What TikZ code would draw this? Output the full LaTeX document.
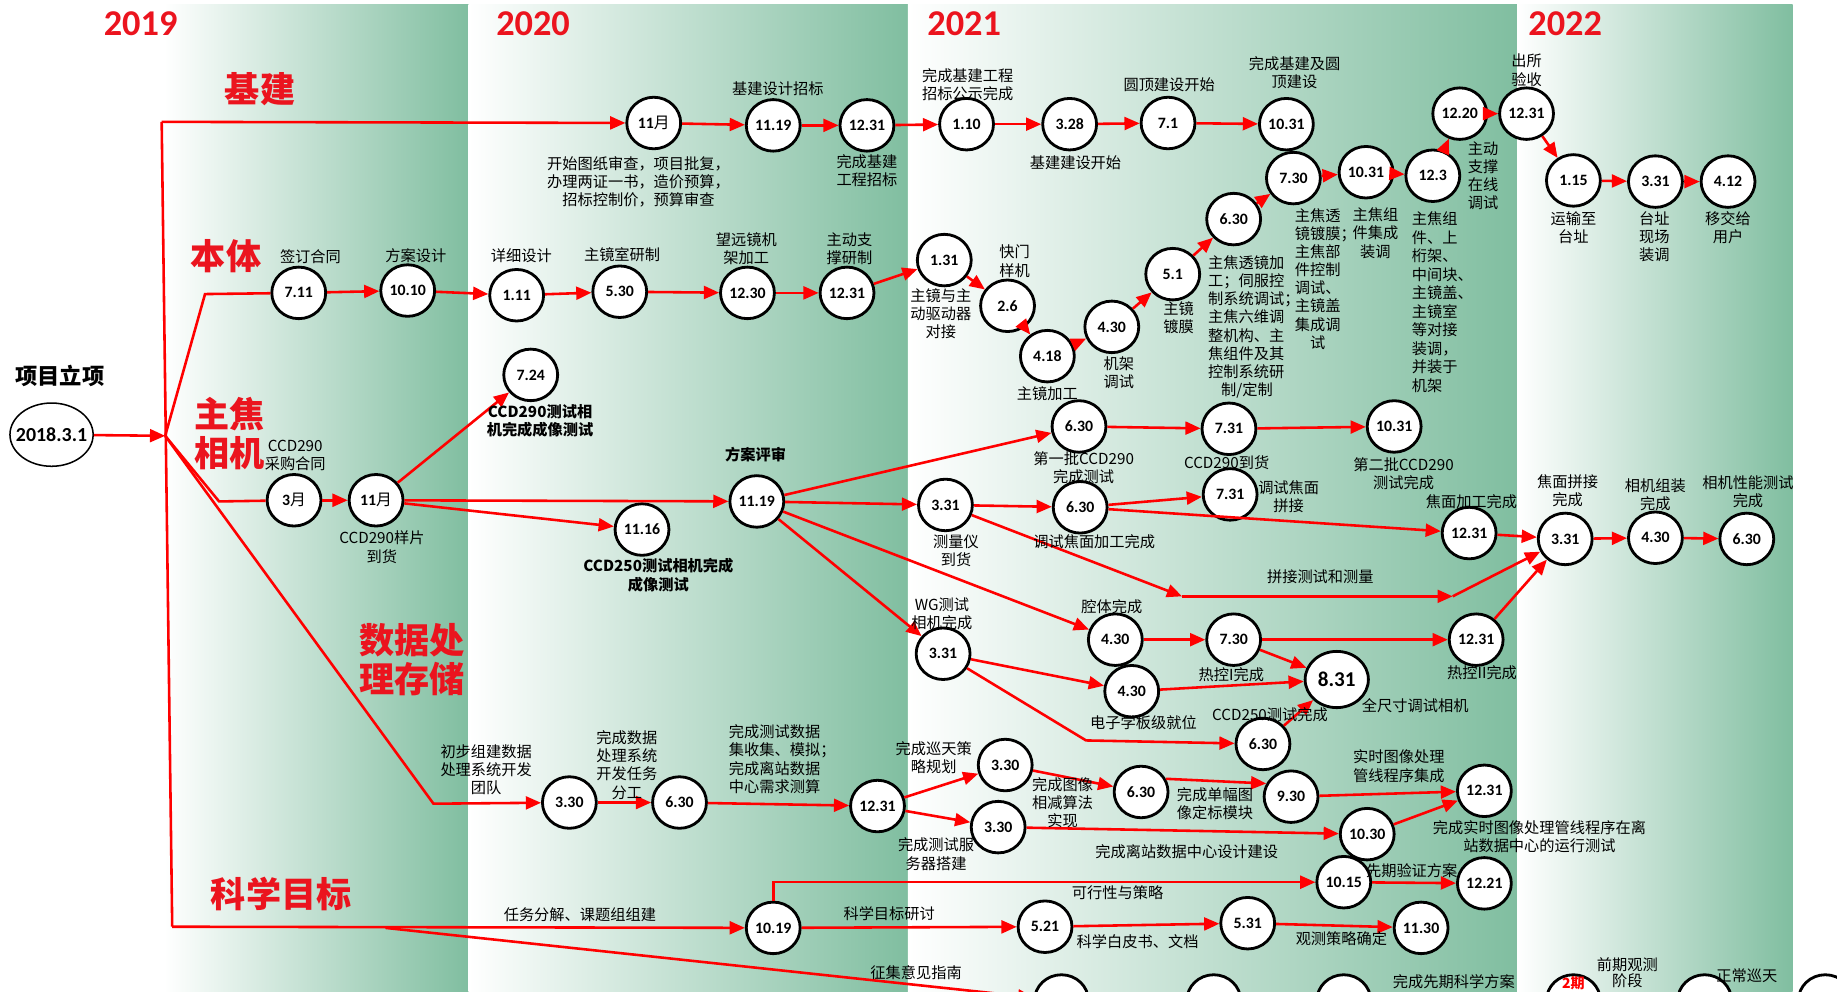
\documentclass[tikz,border=0pt]{standalone}
\usepackage{fontspec}
\newfontfamily\cjk{Noto Sans CJK SC}
\newfontfamily\num{Carlito}
\usetikzlibrary{shapes.geometric,arrows.meta}
\definecolor{bandg}{RGB}{128,190,160}
\definecolor{lred}{RGB}{255,0,0}
\definecolor{cred}{RGB}{235,20,30}
\begin{document}
\begin{tikzpicture}[x=1pt,y=-1pt,
 ms/.style={draw=black,line width=2.4pt,ellipse,minimum width=46pt,minimum height=44pt,inner sep=0pt,fill=white,font=\num\bfseries\fontsize{13.5}{14}\selectfont},
 ar/.style={draw=lred,line width=2.2pt,-{Triangle[length=13pt,width=11pt]}},
 ln/.style={draw=lred,line width=2.2pt},
 lb/.style={font=\cjk\fontsize{13}{15.5}\selectfont,align=center,inner sep=0pt,text=black},
 lbl/.style={lb,align=left,anchor=west},
 blb/.style={font=\cjk\bfseries\fontsize{13}{15.5}\selectfont,align=center,inner sep=0pt},
 cat/.style={text=cred,font=\cjk\bfseries\fontsize{30}{34}\selectfont,align=left,inner sep=0pt},
 yr/.style={text=cred,font=\num\bfseries\fontsize{31}{31}\selectfont,inner sep=0pt},
 band/.style={left color=white,middle color=bandg!35,right color=bandg}
]
\useasboundingbox (0,0) rectangle (1568,846);
\clip (0,0) rectangle (1568,846);
\fill[white] (0,0) rectangle (1568,846);
\shade[band] (140,4) rectangle (400,846);
\shade[band] (400,4) rectangle (775,846);
\shade[band] (775,4) rectangle (1295,846);
\shade[band] (1295,4) rectangle (1530,846);

% years
\node[yr] (y19) at (120,20) {2019};
\node[yr] (y20) at (455,20) {2020};
\node[yr] (y21) at (823,20) {2021};
\node[yr] (y22) at (1336,20) {2022};

% categories
\node[cat] (k1) at (222,76) {基建};
\node[cat] (k2) at (193,219) {本体};
\node[cat] (k3) at (196,370) {主焦\\相机};
\node[cat] (k4) at (352,563) {数据处\\理存储};
\node[cat] (k5) at (240,763) {科学目标};

% start
\node[font=\cjk\bfseries\fontsize{19}{19}\selectfont,inner sep=0pt] (xm) at (51,321) {项目立项};
\node[draw=black,line width=1.3pt,ellipse,minimum width=71pt,minimum height=54pt,inner sep=0pt] (st) at (44,371) {};
\node[font=\num\bfseries\fontsize{17}{17}\selectfont,inner sep=0pt] (stt) at (st) {2018.3.1};

% coordinates
\coordinate (T) at (138,104);
\coordinate (B) at (147,791);
\coordinate (J) at (141,372);
\coordinate (Bb) at (175,251);
\coordinate (Bz) at (187,428);
\coordinate (Bd) at (370,686);
\coordinate (Bs) at (329,792);
\coordinate (P1) at (1009,509);
\coordinate (P2) at (1240,509);
\coordinate (K) at (927,632);

% jijian
\node[ms] (j1) at (558,105) {11{\cjk\mdseries 月}};
\node[ms] (j2) at (660,107) {11.19};
\node[ms] (j3) at (740,107) {12.31};
\node[ms] (j4) at (825,106) {1.10};
\node[ms] (j5) at (913,106) {3.28};
\node[ms] (j6) at (997,105) {7.1};
\node[ms] (j7) at (1098,106) {10.31};

% benti
\node[ms] (b1) at (255,250) {7.11};
\node[ms] (b2) at (348,248) {10.10};
\node[ms] (b3) at (441,252) {1.11};
\node[ms] (b4) at (529,249) {5.30};
\node[ms] (b5) at (638,250) {12.30};
\node[ms] (b6) at (723,250) {12.31};
\node[ms] (b7) at (806,222) {1.31};
\node[ms] (b8) at (860,261) {2.6};
\node[ms] (b9) at (894,304) {4.18};
\node[ms] (b10) at (949,279) {4.30};
\node[ms] (b11) at (1001,234) {5.1};
\node[ms] (b12) at (1053,187) {6.30};
\node[ms] (b13) at (1104,152) {7.30};
\node[ms] (b14) at (1166,147) {10.31};
\node[ms] (b15) at (1223,150) {12.3};
\node[ms] (b16) at (1246,97) {12.20};
\node[ms] (b17) at (1303,97) {12.31};
\node[ms] (b18) at (1343,154) {1.15};
\node[ms] (b19) at (1413,155) {3.31};
\node[ms] (b20) at (1475,155) {4.12};

% zhujiao
\node[ms] (c1) at (251,427) {3{\cjk\mdseries 月}};
\node[ms] (c2) at (321,427) {11{\cjk\mdseries 月}};
\node[ms] (c3) at (453,320) {7.24};
\node[ms] (c4) at (548,452) {11.16};
\node[ms] (c5) at (646,428) {11.19};
\node[ms] (c6) at (921,364) {6.30};
\node[ms] (c7) at (1049,366) {7.31};
\node[ms] (c8) at (1190,364) {10.31};
\node[ms] (c9) at (807,431) {3.31};
\node[ms] (c10) at (922,433) {6.30};
\node[ms] (c11) at (1050,422) {7.31};
\node[ms] (c12) at (1254,455) {12.31};
\node[ms] (c13) at (1336,460) {3.31};
\node[ms] (c14) at (1413,459) {4.30};
\node[ms] (c15) at (1491,460) {6.30};
\node[ms] (c16) at (805,558) {3.31};
\node[ms] (c17) at (952,546) {4.30};
\node[ms] (c18) at (1053,546) {7.30};
\node[ms] (c19) at (1260,546) {12.31};
\node[ms] (c20) at (966,590) {4.30};
\node[ms,minimum width=54pt,minimum height=48pt,font=\num\bfseries\fontsize{18}{18}\selectfont] (c21) at (1141,580) {8.31};
\node[ms] (c22) at (1078,635) {6.30};

% data
\node[ms] (d1) at (486,685) {3.30};
\node[ms] (d2) at (580,685) {6.30};
\node[ms] (d3) at (749,688) {12.31};
\node[ms] (d4) at (858,653) {3.30};
\node[ms] (d5) at (852,706) {3.30};
\node[ms] (d6) at (974,676) {6.30};
\node[ms] (d7) at (1102,680) {9.30};
\node[ms] (d8) at (1167,712) {10.30};
\node[ms] (d9) at (1267,675) {12.31};

% science
\node[ms] (s1) at (660,792) {10.19};
\node[ms] (s2) at (892,791) {5.21};
\node[ms] (s3) at (1065,788) {5.31};
\node[ms] (s4) at (1213,792) {11.30};
\node[ms] (s5) at (1147,753) {10.15};
\node[ms] (s6) at (1267,754) {12.21};

% bottom (cut)
\node[ms] (q1) at (906,854) {};
\node[ms] (q2) at (1036,854) {};
\node[ms] (q3) at (1147,854) {};
\node[ms] (q4) at (1343,854) {};
\node[ms] (q5) at (1455,854) {};
\node[ms] (q6) at (1558,854) {};
\node[font=\cjk\bfseries\fontsize{12}{12}\selectfont,text=red,inner sep=0pt] (q4t) at (1343,839) {2期};

% connectors
\draw[ar] (st) -- (J);
\draw[ln] (B) -- (T);
\draw[ar] (T) -- (j1);
\draw[ln] (J) -- (Bb) -- (b1);
\draw[ln] (J) -- (Bz) -- (c1);
\draw[ar] (J) -- (Bd) -- (d1);
\draw[ar] (B) -- (s1);
\draw[ar] (Bs) -- (q1);

\draw[ar] (j1) -- (j2);
\draw[ar] (j2) -- (j3);
\draw[ar] (j3) -- (j4);
\draw[ar] (j4) -- (j5);
\draw[ar] (j5) -- (j6);
\draw[ar] (j6) -- (j7);

\draw[ar] (b1) -- (b2);
\draw[ar] (b2) -- (b3);
\draw[ar] (b3) -- (b4);
\draw[ar] (b4) -- (b5);
\draw[ar] (b5) -- (b6);
\draw[ar] (b6) -- (b7);
\draw[ar] (b7) -- (b8);
\draw[ar] (b8) -- (b9);
\draw[ar] (b9) -- (b10);
\draw[ar] (b10) -- (b11);
\draw[ar] (b11) -- (b12);
\draw[ar] (b12) -- (b13);
\draw[ar] (b13) -- (b14);
\draw[ar] (b14) -- (b15);
\draw[ar] (b15) -- (b16);
\draw[ar] (b16) -- (b17);
\draw[ar] (b17) -- (b18);
\draw[ar] (b18) -- (b19);
\draw[ar] (b19) -- (b20);

\draw[ar] (c1) -- (c2);
\draw[ar] (c2) -- (c3);
\draw[ar] (c2) -- (c4);
\draw[ar] (c2) -- (c5);
\draw[ar] (c5) -- (c6);
\draw[ar] (c5) -- (c9);
\draw[ar] (c5) -- (c17);
\draw[ar] (c5) -- (c16);
\draw[ar] (c6) -- (c7);
\draw[ar] (c7) -- (c8);
\draw[ar] (c9) -- (c10);
\draw[ar] (c9) -- (P1);
\draw[ar] (P1) -- (P2);
\draw[ar] (P2) -- (c13);
\draw[ar] (c10) -- (c11);
\draw[ar] (c10) -- (c12);
\draw[ar] (c12) -- (c13);
\draw[ar] (c13) -- (c14);
\draw[ar] (c14) -- (c15);
\draw[ar] (c17) -- (c18);
\draw[ar] (c18) -- (c19);
\draw[ar] (c18) -- (c21);
\draw[ar] (c19) -- (c13);
\draw[ar] (c16) -- (c20);
\draw[ar] (c20) -- (c21);
\draw[ar] (c16) -- (K) -- (c22);
\draw[ar] (c22) -- (c21);

\draw[ar] (d1) -- (d2);
\draw[ar] (d2) -- (d3);
\draw[ar] (d3) -- (d4);
\draw[ar] (d3) -- (d5);
\draw[ar] (d4) -- (d6);
\draw[ar] (d6.28) -- (d7.152);
\draw[ar] (d7) -- (d9);
\draw[ar] (d5) -- (d8);
\draw[ar] (d8) -- (d9);

\draw[ar] (s1.north) |- (s5);
\draw[ar] (s1) -- (s2);
\draw[ar] (s2) -- (s3);
\draw[ar] (s3) -- (s4);
\draw[ar] (s5) -- (s6);

% labels jijian
\node[lb] (l1) at (664,76) {基建设计招标};
\node[lb] (l2) at (545,155) {开始图纸审查，项目批复，\\办理两证一书，造价预算，\\招标控制价，预算审查};
\node[lb] (l3) at (740,146) {完成基建\\工程招标};
\node[lb] (l4) at (826,72) {完成基建工程\\招标公示完成};
\node[lb] (l5) at (918,139) {基建建设开始};
\node[lb] (l6) at (998,72) {圆顶建设开始};
\node[lb] (l7) at (1105,62) {完成基建及圆\\顶建设};

% labels benti
\node[lb] (m1) at (265,219) {签订合同};
\node[lb] (m2) at (355,218) {方案设计};
\node[lb] (m3) at (445,218) {详细设计};
\node[lb] (m4) at (531,217) {主镜室研制};
\node[lb] (m5) at (637,212) {望远镜机\\架加工};
\node[lb] (m6) at (725,212) {主动支\\撑研制};
\node[lb] (m7) at (803,268) {主镜与主\\动驱动器\\对接};
\node[lb] (m8) at (866,223) {快门\\样机};
\node[lb] (m9) at (894,336) {主镜加工};
\node[lb] (m10) at (955,318) {机架\\调试};
\node[lb] (m11) at (1006,271) {主镜\\镀膜};
\node[lbl] (m12) at (1031,279) {主焦透镜加\\工；伺服控\\制系统调试；\\主焦六维调\\整机构、主\\焦组件及其\\控制系统研\\\hspace*{0.85em}制/定制};
\node[lbl] (m13) at (1105,238) {主焦透\\镜镀膜；\\主焦部\\件控制\\调试、\\主镜盖\\集成调\\\hspace*{1em}试};
\node[lb] (m14) at (1174,199) {主焦组\\件集成\\装调};
\node[lbl,font=\cjk\fontsize{13}{15.8}\selectfont] (m15) at (1205,258) {主焦组\\件、上\\桁架、\\中间块、\\主镜盖、\\主镜室\\等对接\\装调，\\并装于\\机架};
\node[lb] (m16) at (1266,150) {主动\\支撑\\在线\\调试};
\node[lb] (m17) at (1303,60) {出所\\验收};
\node[lb] (m18) at (1343,194) {运输至\\台址};
\node[lb] (m19) at (1412,202) {台址\\现场\\装调};
\node[lb] (m20) at (1475,194) {移交给\\用户};

% labels zhujiao
\node[lb] (n1) at (252,389) {CCD290\\采购合同};
\node[lb] (n2) at (326,467) {CCD290样片\\到货};
\node[blb] (n3) at (461,359) {CCD290测试相\\机完成成像测试};
\node[blb] (n4) at (562,491) {CCD250测试相机完成\\成像测试};
\node[blb] (n5) at (645,388) {方案评审};
\node[lb] (n6) at (925,399) {第一批CCD290\\完成测试};
\node[lb] (n7) at (816,470) {测量仪\\到货};
\node[lb] (n8) at (934,462) {调试焦面加工完成};
\node[lb] (n9) at (804,524) {WG测试\\相机完成};
\node[lb] (n10) at (949,518) {腔体完成};
\node[lb] (n11) at (1047,395) {CCD290到货};
\node[lb] (n12) at (1100,424) {调试焦面\\拼接};
\node[lb] (n13) at (1198,404) {第二批CCD290\\测试完成};
\node[lb] (n14) at (1256,428) {焦面加工完成};
\node[lb] (n15) at (1338,419) {焦面拼接\\完成};
\node[lb] (n16) at (1413,422) {相机组装\\完成};
\node[lb] (n17) at (1492,420) {相机性能测试\\完成};
\node[lb] (n18) at (1127,492) {拼接测试和测量};
\node[lb] (n19) at (1051,576) {热控I完成};
\node[lb] (n20) at (1265,574) {热控II完成};
\node[lb] (n21) at (976,617) {电子学板级就位};
\node[lb] (n22) at (1084,610) {CCD250测试完成};
\node[lb] (n23) at (1208,602) {全尺寸调试相机};

% labels data
\node[lb] (o1) at (415,657) {初步组建数据\\处理系统开发\\团队};
\node[lb] (o2) at (535,653) {完成数据\\处理系统\\开发任务\\分工};
\node[lbl] (o3) at (622,648) {完成测试数据\\集收集、模拟；\\完成离站数据\\中心需求测算};
\node[lb] (o4) at (797,647) {完成巡天策\\略规划};
\node[lb] (o5) at (799,729) {完成测试服\\务器搭建};
\node[lb] (o6) at (907,685) {完成图像\\相减算法\\实现};
\node[lb] (o7) at (1037,686) {完成单幅图\\像定标模块};
\node[lb] (o8) at (1013,727) {完成离站数据中心设计建设};
\node[lb] (o9) at (1194,654) {实时图像处理\\管线程序集成};
\node[lb] (o10) at (1314,714) {完成实时图像处理管线程序在离\\站数据中心的运行测试};

% labels science
\node[lb] (p1) at (495,781) {任务分解、课题组组建};
\node[lb] (p2) at (759,780) {科学目标研讨};
\node[lb] (p3) at (954,762) {可行性与策略};
\node[lb] (p4) at (971,804) {科学白皮书、文档};
\node[lb] (p5) at (1145,801) {观测策略确定};
\node[lb] (p6) at (1205,743) {先期验证方案};
\node[lb] (p7) at (782,830) {征集意见指南};
\node[lb] (p8) at (1241,838) {完成先期科学方案};
\node[lb,font=\cjk\fontsize{13}{14}\selectfont] (p9) at (1389,830) {前期观测\\阶段};
\node[lb] (p10) at (1491,833) {正常巡天};
\end{tikzpicture}
\end{document}
